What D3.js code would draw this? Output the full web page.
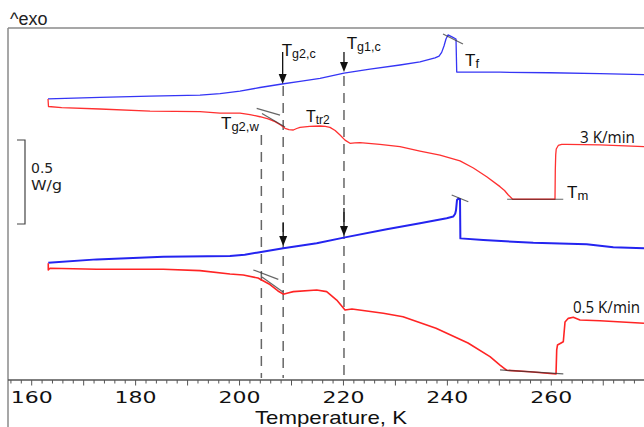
<!DOCTYPE html>
<html><head><meta charset="utf-8">
<script src="https://cdn.jsdelivr.net/npm/d3@7"></script>
<style>html,body{margin:0;padding:0;background:#fff;}svg{display:block;}</style>
</head><body>
<svg id="chart" width="644" height="427"></svg>
<script>
// ---------- DATA (Temperature K, heat flow W/g with arbitrary offset) ----------
const cool3K = [[163.14,1.673],[173.14,1.682],[182.77,1.690],[192.39,1.696],[196.24,1.705],[200.09,1.720],[203.94,1.741],[208.17,1.762],[211.64,1.777],[215.49,1.795],[220.11,1.827],[225.11,1.851],[230.88,1.875],[234.73,1.893],[237.62,1.917],[238.40,1.928],[238.90,1.950],[239.35,1.988],[239.73,2.030],[240.12,2.054],[240.89,2.042],[241.66,2.030],[241.80,1.833],[244.35,1.833],[250.13,1.832],[259.75,1.829],[269.37,1.824],[277.84,1.818]];
const heat3K = [[163.14,1.673],[163.23,1.628],[165.77,1.621],[173.14,1.613],[182.77,1.601],[192.39,1.597],[196.24,1.588],[200.09,1.588],[202.00,1.580],[203.94,1.567],[205.50,1.554],[206.83,1.538],[207.90,1.518],[208.75,1.498],[209.50,1.490],[210.35,1.488],[211.00,1.497],[211.64,1.504],[213.50,1.510],[215.49,1.512],[216.50,1.510],[217.41,1.504],[218.40,1.485],[219.34,1.458],[220.30,1.428],[221.26,1.409],[222.20,1.411],[223.19,1.413],[227.00,1.402],[230.88,1.389],[234.73,1.363],[238.58,1.339],[242.43,1.304],[245.00,1.262],[247.57,1.210],[250.13,1.151],[251.00,1.128],[251.73,1.101],[252.57,1.076],[260.71,1.076],[260.77,1.250],[260.85,1.340],[260.95,1.375],[261.34,1.396],[262.00,1.402],[262.96,1.403],[269.37,1.399],[277.84,1.389]];
const cool05K = [[163.19,0.698],[172.51,0.718],[185.33,0.734],[198.16,0.738],[201.00,0.746],[203.30,0.758],[208.42,0.784],[214.85,0.814],[220.30,0.849],[228.32,0.897],[234.73,0.933],[239.87,0.963],[241.14,0.973],[241.50,0.990],[241.66,1.010],[241.85,1.071],[242.14,1.080],[242.43,1.076],[242.50,0.843],[246.91,0.833],[256.53,0.817],[266.81,0.808],[271.93,0.790],[277.84,0.784]];
const heat05K = [[163.19,0.695],[163.19,0.655],[163.52,0.665],[172.51,0.659],[185.33,0.659],[192.39,0.651],[198.16,0.631],[200.72,0.625],[203.55,0.607],[205.86,0.568],[207.40,0.530],[208.42,0.511],[209.30,0.518],[210.35,0.526],[214.85,0.536],[216.77,0.526],[218.70,0.476],[220.30,0.417],[221.64,0.423],[227.67,0.397],[231.46,0.377],[237.81,0.308],[243.97,0.220],[248.20,0.139],[250.13,0.089],[251.00,0.068],[251.42,0.058],[255.90,0.049],[260.91,0.036],[261.04,0.179],[261.19,0.208],[262.31,0.228],[262.64,0.345],[263.27,0.367],[264.23,0.373],[265.52,0.357],[269.37,0.353],[277.84,0.338]];
// construction (tangent / baseline) lines
const constructionLines = [
  [[239.16,2.060],[243.00,2.000]],   // Tf 3 K/min
  [[251.50,1.076],[262.30,1.076]],   // Tm 3 K/min
  [[203.30,1.617],[207.79,1.577]],   // Tg2,w 3 K/min baseline
  [[204.32,1.586],[208.75,1.506]],   // Tg2,w 3 K/min tangent
  [[240.83,1.101],[244.03,1.061]],   // Tf 0.5 K/min
  [[250.13,0.060],[262.31,0.036]],   // Tm 0.5 K/min
  [[202.65,0.655],[207.46,0.599]],   // Tg2,w 0.5 K/min baseline
  [[204.32,0.613],[208.36,0.524]]    // Tg2,w 0.5 K/min tangent
];
// dashed transition markers: [T, top value]
const dashedMarkers = [[204.2,1.458],[208.4,1.750],[220.1,1.810]];
// arrows: [T, from, to]
const arrows = [[208.3,1.952,1.762],[220.1,1.952,1.833],[208.4,0.935,0.798],[220.1,1.024,0.857]];
const xTickLabels = [160,180,200,220,240,260];
const labels = [
  {T:208.11,v:1.929,main:"T",sub:"g2,c",fs:17,sfs:12.5},
  {T:220.62,v:1.970,main:"T",sub:"g1,c",fs:17,sfs:12.5},
  {T:196.43,v:1.494,main:"T",sub:"g2,w",fs:17,sfs:13},
  {T:212.79,v:1.536,main:"T",sub:"tr2",fs:16,sfs:12},
  {T:243.41,v:1.869,main:"T",sub:"f",fs:17,sfs:13},
  {T:263.02,v:1.083,main:"T",sub:"m",fs:17,sfs:13}
];
const rateLabels = [{T:265.52,v:1.411,text:"3 K/min",w:55},{T:264.17,v:0.399,text:"0.5 K/min",w:67}];
const scaleBar = {T:158.71, top:1.4286, size:0.5, label:["0.5","W/g"]};

// ---------- DRAW ----------
const svg = d3.select("#chart");
const x = d3.scaleLinear().domain([160,260]).range([31.7,551.3]);
const y = d3.scaleLinear().domain([0,2.1]).range([380,27.2]);
const plotLeft = 8, plotRight = 644, plotTop = 28, axisY = y(0);

// frame
svg.append("line").attr("x1",plotLeft).attr("x2",plotRight).attr("y1",plotTop).attr("y2",plotTop).attr("stroke","#8a8a8a").attr("stroke-width",1.5);
svg.append("line").attr("x1",plotLeft).attr("x2",plotLeft).attr("y1",plotTop).attr("y2",427).attr("stroke","#8a8a8a").attr("stroke-width",1.5);

// x axis
const minorTicks = d3.range(156,278,2);
const axisG = svg.append("g");
axisG.append("line").attr("x1",plotLeft).attr("x2",plotRight).attr("y1",axisY).attr("y2",axisY).attr("stroke","#555").attr("stroke-width",1.5);
axisG.selectAll(".tk").data(minorTicks).enter().append("line")
  .attr("x1",d=>x(d)).attr("x2",d=>x(d)).attr("y1",axisY).attr("y2",d=>axisY+(d%10===0?5.5:3.5))
  .attr("stroke","#555").attr("stroke-width",1);
axisG.selectAll(".tl").data(xTickLabels).enter().append("text")
  .attr("x",d=>x(d)).attr("y",402.5).attr("text-anchor","middle")
  .attr("font-family","DejaVu Sans, sans-serif").attr("font-size",16)
  .attr("textLength",42).attr("lengthAdjust","spacingAndGlyphs")
  .attr("fill","#111").text(d=>d);
svg.append("text").attr("x",331).attr("y",424.3).attr("text-anchor","middle")
  .attr("font-family","Liberation Sans Narrow, Liberation Sans, sans-serif").attr("font-size",19)
  .attr("textLength",152).attr("lengthAdjust","spacingAndGlyphs")
  .attr("fill","#111").text("Temperature, K");

// ^exo
svg.append("text").attr("x",10).attr("y",25).attr("font-family","Liberation Sans, Arial, sans-serif")
  .attr("font-size",18).attr("fill","#222").text("^exo");

// scale bar
const sbX = x(scaleBar.T), sbY1 = y(scaleBar.top), sbY2 = y(scaleBar.top - scaleBar.size);
svg.append("path").attr("d",`M${sbX-8},${sbY1}H${sbX}V${sbY2}H${sbX-8}`).attr("fill","none").attr("stroke","#444").attr("stroke-width",1.2);
svg.append("text").attr("x",sbX+6).attr("y",sbY1+33).attr("font-family","DejaVu Sans, sans-serif").attr("font-size",14).attr("fill","#222").text(scaleBar.label[0]);
svg.append("text").attr("x",sbX+6).attr("y",sbY1+50).attr("font-family","DejaVu Sans, sans-serif").attr("font-size",14)
  .attr("textLength",31).attr("lengthAdjust","spacingAndGlyphs").attr("fill","#222").text(scaleBar.label[1]);

// dashed markers
svg.selectAll(".dash").data(dashedMarkers).enter().append("line")
  .attr("x1",d=>x(d[0])).attr("x2",d=>x(d[0])).attr("y1",d=>y(d[1])).attr("y2",axisY-2)
  .attr("stroke","#666").attr("stroke-width",1.5).attr("stroke-dasharray","10,7");

// curves
const line = d3.line().x(d=>x(d[0])).y(d=>y(d[1])).curve(d3.curveLinear);
const curves = [
  {data:cool3K, color:"#3535f5", w:1.3},
  {data:heat3K, color:"#ff3030", w:1.3},
  {data:cool05K, color:"#2424f0", w:2.0},
  {data:heat05K, color:"#ff2424", w:1.6}
];
svg.selectAll(".curve").data(curves).enter().append("path")
  .attr("d",d=>line(d.data)).attr("fill","none").attr("stroke",d=>d.color).attr("stroke-width",d=>d.w)
  .attr("stroke-linejoin","round");

// construction lines
svg.selectAll(".cl").data(constructionLines).enter().append("line")
  .attr("x1",d=>x(d[0][0])).attr("y1",d=>y(d[0][1])).attr("x2",d=>x(d[1][0])).attr("y2",d=>y(d[1][1]))
  .attr("stroke","#333").attr("stroke-opacity",0.75).attr("stroke-width",1.2);

// arrows
arrows.forEach(a=>{
  const ax = x(a[0]), y1 = y(a[1]), y2 = y(a[2]);
  svg.append("line").attr("x1",ax).attr("x2",ax).attr("y1",y1).attr("y2",y2-8).attr("stroke","#111").attr("stroke-width",1.3);
  svg.append("path").attr("d",`M${ax-4},${y2-10}L${ax+4},${y2-10}L${ax},${y2}Z`).attr("fill","#111");
});

// T labels
labels.forEach(l=>{
  const t = svg.append("text").attr("x",x(l.T)).attr("y",y(l.v))
    .attr("font-family","Liberation Sans, Arial, sans-serif").attr("fill","#111");
  t.append("tspan").attr("font-size",l.fs).text(l.main);
  t.append("tspan").attr("font-size",l.sfs).attr("dy",2).text(l.sub);
});
svg.selectAll(".rate").data(rateLabels).enter().append("text")
  .attr("x",d=>x(d.T)).attr("y",d=>y(d.v)).attr("font-family","Open Sans, sans-serif")
  .attr("font-size",16).attr("textLength",d=>d.w).attr("lengthAdjust","spacingAndGlyphs")
  .attr("fill","#111").text(d=>d.text);
</script>
</body></html>
